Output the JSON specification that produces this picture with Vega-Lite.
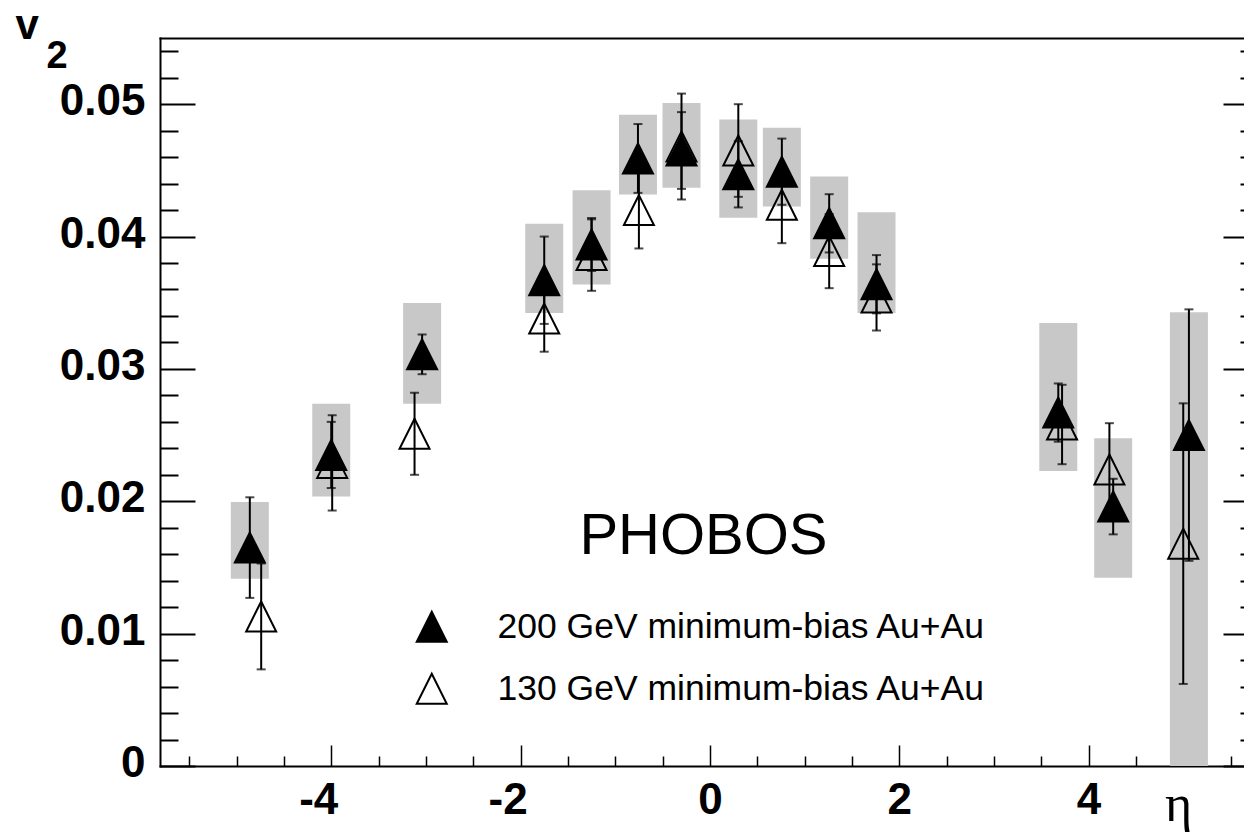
{
  "$schema": "https://vega.github.io/schema/vega-lite/v6.json",
  "width": 1084,
  "height": 728,
  "autosize": {"type": "none"},
  "padding": {"left": 160, "top": 38, "right": 0, "bottom": 72},
  "background": "white",
  "config": {"view": {"stroke": null}, "axis": {"grid": false}},
  "datasets": {
    "pts": [
      {"series": "130 GeV minimum-bias Au+Au", "eta": -4.74, "v": 0.0113, "err": 0.0040},
      {"series": "130 GeV minimum-bias Au+Au", "eta": -3.99, "v": 0.0229, "err": 0.0036},
      {"series": "130 GeV minimum-bias Au+Au", "eta": -3.12, "v": 0.0251, "err": 0.0031},
      {"series": "130 GeV minimum-bias Au+Au", "eta": -1.75, "v": 0.0338, "err": 0.0025},
      {"series": "130 GeV minimum-bias Au+Au", "eta": -1.25, "v": 0.0386, "err": 0.0027},
      {"series": "130 GeV minimum-bias Au+Au", "eta": -0.75, "v": 0.0420, "err": 0.0029},
      {"series": "130 GeV minimum-bias Au+Au", "eta": -0.30, "v": 0.0468, "err": 0.0040},
      {"series": "130 GeV minimum-bias Au+Au", "eta": 0.30, "v": 0.0465, "err": 0.0035},
      {"series": "130 GeV minimum-bias Au+Au", "eta": 0.76, "v": 0.0424, "err": 0.0029},
      {"series": "130 GeV minimum-bias Au+Au", "eta": 1.26, "v": 0.0389, "err": 0.0028},
      {"series": "130 GeV minimum-bias Au+Au", "eta": 1.76, "v": 0.0354, "err": 0.0025},
      {"series": "130 GeV minimum-bias Au+Au", "eta": 3.72, "v": 0.0258, "err": 0.0030},
      {"series": "130 GeV minimum-bias Au+Au", "eta": 4.22, "v": 0.0224, "err": 0.0035},
      {"series": "130 GeV minimum-bias Au+Au", "eta": 5.00, "v": 0.0168, "err": 0.0106},
      {"series": "200 GeV minimum-bias Au+Au", "eta": -4.86, "v": 0.0165, "err": 0.0038, "sys_lo": 0.01415, "sys_hi": 0.01994},
      {"series": "200 GeV minimum-bias Au+Au", "eta": -4.00, "v": 0.0235, "err": 0.0025, "sys_lo": 0.02037, "sys_hi": 0.02737},
      {"series": "200 GeV minimum-bias Au+Au", "eta": -3.04, "v": 0.0311, "err": 0.0015, "sys_lo": 0.02737, "sys_hi": 0.03497},
      {"series": "200 GeV minimum-bias Au+Au", "eta": -1.75, "v": 0.0367, "err": 0.0033, "sys_lo": 0.03422, "sys_hi": 0.04097},
      {"series": "200 GeV minimum-bias Au+Au", "eta": -1.25, "v": 0.0394, "err": 0.0020, "sys_lo": 0.03638, "sys_hi": 0.04349},
      {"series": "200 GeV minimum-bias Au+Au", "eta": -0.76, "v": 0.0459, "err": 0.0026, "sys_lo": 0.04318, "sys_hi": 0.04920},
      {"series": "200 GeV minimum-bias Au+Au", "eta": -0.30, "v": 0.0465, "err": 0.0029, "sys_lo": 0.04369, "sys_hi": 0.05008},
      {"series": "200 GeV minimum-bias Au+Au", "eta": 0.30, "v": 0.0447, "err": 0.0025, "sys_lo": 0.04142, "sys_hi": 0.04884},
      {"series": "200 GeV minimum-bias Au+Au", "eta": 0.76, "v": 0.0449, "err": 0.0025, "sys_lo": 0.04227, "sys_hi": 0.04822},
      {"series": "200 GeV minimum-bias Au+Au", "eta": 1.26, "v": 0.0410, "err": 0.0022, "sys_lo": 0.03832, "sys_hi": 0.04454},
      {"series": "200 GeV minimum-bias Au+Au", "eta": 1.76, "v": 0.0364, "err": 0.0022, "sys_lo": 0.03422, "sys_hi": 0.04184},
      {"series": "200 GeV minimum-bias Au+Au", "eta": 3.68, "v": 0.0267, "err": 0.0022, "sys_lo": 0.02228, "sys_hi": 0.03346},
      {"series": "200 GeV minimum-bias Au+Au", "eta": 4.26, "v": 0.0196, "err": 0.0021, "sys_lo": 0.01423, "sys_hi": 0.02477},
      {"series": "200 GeV minimum-bias Au+Au", "eta": 5.06, "v": 0.0250, "err": 0.0095, "sys_lo": 0.0, "sys_hi": 0.03429}
    ]
  },
  "data": {"name": "pts"},
  "resolve": {"axis": {"x": "independent", "y": "independent"}, "scale": {"x": "shared", "y": "shared"}},
  "layer": [
    {
      "transform": [{"filter": {"field": "series", "equal": "200 GeV minimum-bias Au+Au"}}],
      "mark": {"type": "bar", "width": 38, "color": "#c8c8c8"},
      "encoding": {
        "x": {
          "field": "eta", "type": "quantitative",
          "scale": {"domain": [-5.756, 5.589], "nice": false, "zero": false},
          "axis": {
            "orient": "bottom",
            "values": [-5.5, -5, -4.5, -4, -3.5, -3, -2.5, -2, -1.5, -1, -0.5, 0, 0.5, 1, 1.5, 2, 2.5, 3, 3.5, 4, 4.5, 5, 5.5],
            "labelExpr": "datum.value % 2 == 0 ? '' + datum.value : ''",
            "tickSize": {"condition": {"test": "datum.value % 2 == 0", "value": -21}, "value": -10},
            "labelOffset": {"condition": {"test": "datum.value < 0", "value": -13}, "value": 0},
            "tickWidth": 1.5, "tickColor": "black",
            "domainColor": "black", "domainWidth": 2, "domainCap": "square",
            "labelFont": "Liberation Sans", "labelFontWeight": "bold", "labelFontSize": 44, "labelColor": "black",
            "labelPadding": 33, "labelBaseline": "top", "labelAlign": "center",
            "labelOverlap": false, "labelFlush": false, "labelBound": false,
            "grid": false,
            "title": "η", "titleFont": "Liberation Serif", "titleFontSize": 52, "titleFontWeight": "normal", "titleColor": "black",
            "titleX": 1018, "titleY": 54, "titleAlign": "center", "titleBaseline": "alphabetic"
          }
        },
        "y": {
          "field": "sys_lo", "type": "quantitative",
          "scale": {"domain": [0, 0.055], "nice": false, "zero": false},
          "axis": {
            "orient": "left",
            "values": [0, 0.002, 0.004, 0.006, 0.008, 0.01, 0.012, 0.014, 0.016, 0.018, 0.02, 0.022, 0.024, 0.026, 0.028, 0.03, 0.032, 0.034, 0.036, 0.038, 0.04, 0.042, 0.044, 0.046, 0.048, 0.05, 0.052, 0.054],
            "labelExpr": "abs(datum.value*100 - round(datum.value*100)) < 1e-6 ? (datum.value == 0 ? '0' : format(datum.value, '.2f')) : ''",
            "tickSize": {"condition": {"test": "abs(datum.value*100 - round(datum.value*100)) < 1e-6", "value": -35}, "value": -18},
            "tickWidth": 2, "tickColor": "black",
            "domainColor": "black", "domainWidth": 2, "domainCap": "square",
            "labelFont": "Liberation Sans", "labelFontWeight": "bold", "labelFontSize": 44, "labelColor": "black",
            "labelPadding": 50, "labelAlign": "right", "labelBaseline": "middle", "labelOffset": -2.5,
            "labelOverlap": false, "labelFlush": false, "labelBound": false,
            "grid": false,
            "title": "v", "titleFont": "Liberation Sans", "titleFontWeight": "bold", "titleFontSize": 42, "titleColor": "black",
            "titleAngle": 0, "titleX": -145, "titleY": 0.5, "titleAlign": "left", "titleBaseline": "alphabetic"
          }
        },
        "y2": {"field": "sys_hi"}
      }
    },
    {
      "mark": {"type": "errorbar", "ticks": true, "size": 9, "thickness": 2, "color": "black"},
      "encoding": {
        "x": {"field": "eta", "type": "quantitative", "scale": {"domain": [-5.756, 5.589], "nice": false, "zero": false}, "axis": null},
        "y": {"field": "v", "type": "quantitative", "scale": {"domain": [0, 0.055], "nice": false, "zero": false}, "axis": null},
        "yError": {"field": "err"}
      }
    },
    {
      "mark": {"type": "point", "filled": true, "shape": "M0,-1L1,1L-1,1Z", "size": 900, "stroke": "black", "strokeWidth": 2, "opacity": 1},
      "encoding": {
        "x": {
          "field": "eta", "type": "quantitative",
          "scale": {"domain": [-5.756, 5.589], "nice": false, "zero": false},
          "axis": {
            "orient": "top", "ticks": false, "labels": false, "domain": true,
            "domainColor": "black", "domainWidth": 2, "domainCap": "square", "grid": false,
            "title": "2", "titleFont": "Liberation Sans", "titleFontWeight": "bold", "titleFontSize": 38, "titleColor": "black",
            "titleX": -114, "titleY": 29, "titleAlign": "left", "titleBaseline": "alphabetic"
          }
        },
        "y": {
          "field": "v", "type": "quantitative",
          "scale": {"domain": [0, 0.055], "nice": false, "zero": false},
          "axis": {
            "orient": "right",
            "values": [0, 0.002, 0.004, 0.006, 0.008, 0.01, 0.012, 0.014, 0.016, 0.018, 0.02, 0.022, 0.024, 0.026, 0.028, 0.03, 0.032, 0.034, 0.036, 0.038, 0.04, 0.042, 0.044, 0.046, 0.048, 0.05, 0.052, 0.054],
            "labels": false, "domain": false, "grid": false, "title": null,
            "tickSize": {"condition": {"test": "abs(datum.value*100 - round(datum.value*100)) < 1e-6", "value": -21}, "value": -4},
            "tickWidth": 2, "tickColor": "black"
          }
        },
        "fill": {
          "field": "series", "type": "nominal",
          "scale": {"domain": ["200 GeV minimum-bias Au+Au", "130 GeV minimum-bias Au+Au"], "range": ["black", "transparent"]},
          "legend": {
            "orient": "none", "legendX": 254, "legendY": 571, "title": null, "padding": 0,
            "symbolType": "M0,-1L1,1L-1,1Z", "symbolSize": 900, "symbolStrokeColor": "black", "symbolStrokeWidth": 2, "symbolOpacity": 1,
            "labelFont": "Liberation Sans", "labelFontSize": 35.5, "labelColor": "black", "labelOffset": 48, "labelLimit": 800,
            "rowPadding": 23
          }
        }
      }
    },
    {
      "data": {"values": [{}]},
      "mark": {"type": "text", "text": "PHOBOS", "font": "Liberation Sans", "fontSize": 58, "align": "center", "baseline": "middle", "color": "black"},
      "encoding": {
        "x": {"datum": -0.068, "type": "quantitative", "scale": {"domain": [-5.756, 5.589], "nice": false, "zero": false}, "axis": null},
        "y": {"datum": 0.01732, "type": "quantitative", "scale": {"domain": [0, 0.055], "nice": false, "zero": false}, "axis": null}
      }
    }
  ]
}
